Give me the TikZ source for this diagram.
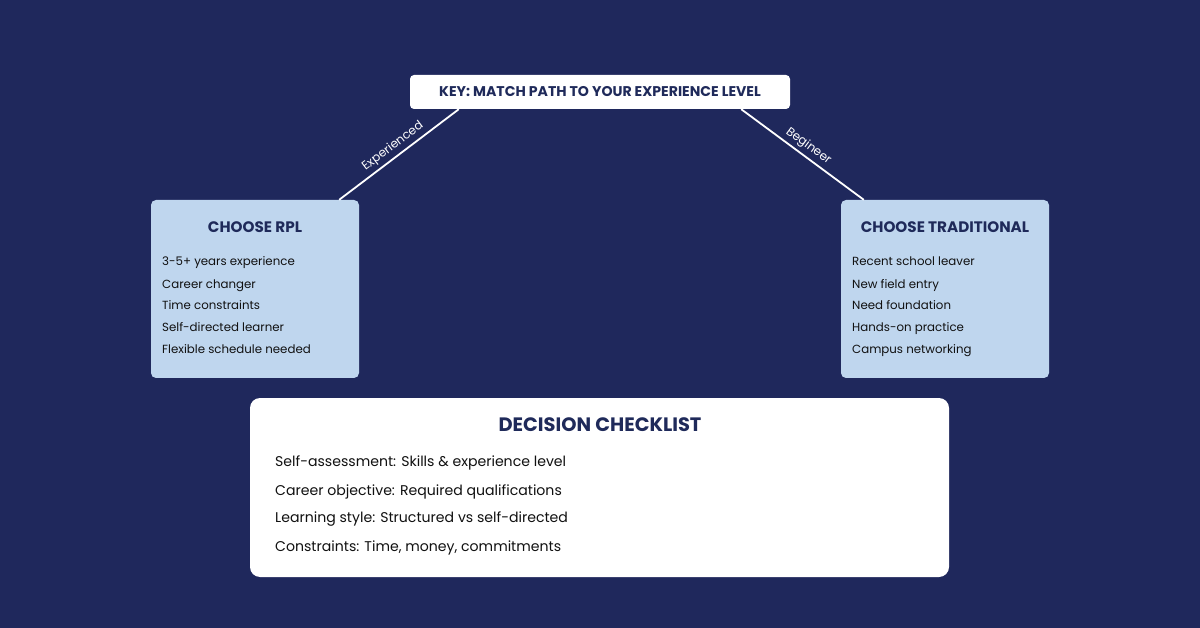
\documentclass[tikz,border=0pt]{standalone}
\usepackage{fontspec}
\setmainfont{Poppins}
\definecolor{bg}{HTML}{1F285C}
\definecolor{navy}{HTML}{1F2A5A}
\definecolor{lblue}{HTML}{BFD6EE}
\definecolor{itemtxt}{HTML}{111111}
\begin{document}
\begin{tikzpicture}[x=1pt,y=-1pt,
  txt/.style={inner sep=0pt,text height=1em,text depth=0pt},
  keybox/.style={fill=white,rounded corners=4pt,draw=none,minimum width=380pt,minimum height=34pt,inner sep=0pt,text height=0.95em,text depth=0pt,font=\fontsize{14.1}{16}\selectfont\bfseries,text=navy},
  pathbox/.style={fill=lblue,rounded corners=5pt,draw=none,minimum width=208pt,minimum height=178pt,inner sep=0pt},
  checkbox/.style={fill=white,rounded corners=10pt,draw=none,minimum width=699pt,minimum height=179pt,inner sep=0pt},
  ptitle/.style={txt,font=\fontsize{15.2}{17}\selectfont\bfseries,text=navy,anchor=center},
  pitem/.style={txt,font=\fontsize{11.8}{13}\selectfont,text=itemtxt,anchor=west},
  ctitle/.style={txt,font=\fontsize{19.4}{22}\selectfont\bfseries,text=navy,anchor=center},
  citem/.style={txt,font=\fontsize{14.1}{16}\selectfont,text=itemtxt,anchor=west},
  link/.style={draw=white,line width=1.8pt},
  linklbl/.style={font=\fontsize{12}{14}\selectfont,text=white,sloped,above,midway,inner sep=3pt}]
\fill[bg] (0,0) rectangle (1200,628);
\useasboundingbox (0,0) rectangle (1200,628);

\node[keybox] (key) at (600,92) {KEY: MATCH PATH TO YOUR EXPERIENCE LEVEL};

\node[pathbox] (rpl) at (255,289) {};
\node[pathbox] (trad) at (945,289) {};

\node[ptitle] (rplt) at (255,227.7) {CHOOSE RPL};
\node[pitem] (r1) at (162,261) {3-5+ years experience};
\node[pitem] (r2) at (162,283.3) {Career changer};
\node[pitem] (r3) at (162,305) {Time constraints};
\node[pitem] (r4) at (162,326.7) {Self-directed learner};
\node[pitem] (r5) at (162,348.7) {Flexible schedule needed};

\node[ptitle] (tradt) at (945,227.7) {CHOOSE TRADITIONAL};
\node[pitem] (t1) at (852,261) {Recent school leaver};
\node[pitem] (t2) at (852,283.3) {New field entry};
\node[pitem] (t3) at (852,305) {Need foundation};
\node[pitem] (t4) at (852,326.7) {Hands-on practice};
\node[pitem] (t5) at (852,348.7) {Campus networking};

\coordinate (kl) at ([xshift=49pt]key.south west);
\coordinate (kr) at ([xshift=-49pt]key.south east);
\coordinate (rl) at ([xshift=-20pt]rpl.north east);
\coordinate (tr) at ([xshift=23pt]trad.north west);
\draw[link] (rl) -- node[linklbl] {Experienced} (kl);
\draw[link] (kr) -- node[linklbl] {Begineer} (tr);

\node[checkbox] (chk) at (599.5,487.5) {};
\node[ctitle] (chkt) at (600,426.7) {DECISION CHECKLIST};
\node[citem] (c1) at (275,461) {Self-assessment: Skills \& experience level};
\node[citem] (c2) at (275,490) {Career objective: Required qualifications};
\node[citem] (c3) at (275,517.7) {Learning style: Structured vs self-directed};
\node[citem] (c4) at (275,546.7) {Constraints: Time, money, commitments};
\end{tikzpicture}
\end{document}
